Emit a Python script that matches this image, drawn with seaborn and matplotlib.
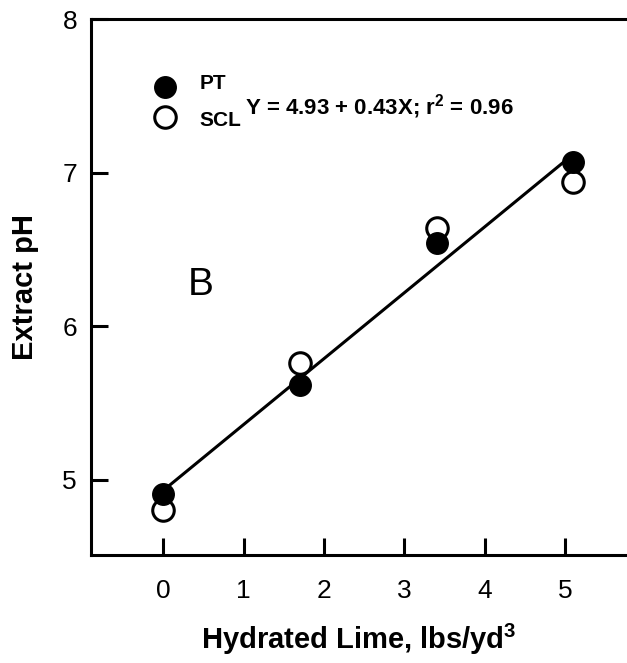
import matplotlib
matplotlib.use("Agg")
import matplotlib.pyplot as plt
import seaborn as sns
import pandas as pd

# values
lime = [0, 1.7, 3.4, 5.1]
ph_pt = [4.91, 5.62, 6.54, 7.07]
ph_scl = [4.80, 5.76, 6.64, 6.94]
fit_x = [0, 5.1]
fit_y = [4.93, 7.12]
equation = "Y = 4.93 + 0.43X; r$^{\\mathbf{2}}$ = 0.96"

sns.set_style("ticks", {'axes.edgecolor': 'black', 'text.color': 'black',
                        'axes.labelcolor': 'black', 'xtick.color': 'black',
                        'ytick.color': 'black'})
plt.rcParams['font.family'] = ['Liberation Sans', 'DejaVu Sans']
plt.rcParams['mathtext.fontset'] = 'custom'
plt.rcParams['mathtext.bf'] = 'Liberation Sans:bold'
plt.rcParams['mathtext.rm'] = 'Liberation Sans'

df = pd.DataFrame({'lime': lime * 2,
                   'ph': ph_pt + ph_scl,
                   'soil': ['PT'] * 4 + ['SCL'] * 4})

fig = plt.figure(figsize=(6.27, 6.63), dpi=100)
ax = fig.add_axes([0.145, 0.163, 0.855, 0.808])

sns.lineplot(x=fit_x, y=fit_y, color='black', lw=2.2, ax=ax)
sns.scatterplot(data=df[df.soil == 'SCL'], x='lime', y='ph', s=240, color='white',
                edgecolor='black', linewidth=2.2, ax=ax, zorder=3)
sns.scatterplot(data=df[df.soil == 'PT'], x='lime', y='ph', s=240, color='black',
                edgecolor='black', linewidth=1, ax=ax, zorder=4)

ax.set_xlim(-0.9, 5.77)
ax.set_ylim(4.51, 8)
ax.set_xticks([0, 1, 2, 3, 4, 5])
ax.set_yticks([5, 6, 7, 8])
ax.tick_params(direction='in', length=12, width=2.2, labelsize=19, colors='black')
ax.tick_params(axis='y', pad=10)
ax.tick_params(axis='x', pad=17)
for s in ['left', 'bottom', 'top']:
    ax.spines[s].set_linewidth(2.2)
    ax.spines[s].set_color('black')
ax.spines['right'].set_visible(False)

ax.set_xlabel("Hydrated Lime, lbs/yd$^{\\mathbf{3}}$", fontsize=21, fontweight='bold',
              labelpad=14, color='black')
ax.set_ylabel("Extract pH", fontsize=21, fontweight='bold', labelpad=17, color='black')

# legend drawn by hand as in the original figure
ax.scatter([0.02], [7.56], s=240, color='black', zorder=5)
ax.scatter([0.02], [7.36], s=240, facecolor='white', edgecolor='black', linewidth=2.2, zorder=5)
ax.text(0.45, 7.58, "PT", fontsize=15, fontweight='bold', va='center', color='black')
ax.text(0.45, 7.34, "SCL", fontsize=15, fontweight='bold', va='center', color='black')
ax.text(1.02, 7.43, equation, fontsize=16, fontweight='bold', va='center', color='black')
ax.text(0.3, 6.27, "B", fontsize=28, va='center', color='black')

fig.savefig("out.png", dpi=100)
